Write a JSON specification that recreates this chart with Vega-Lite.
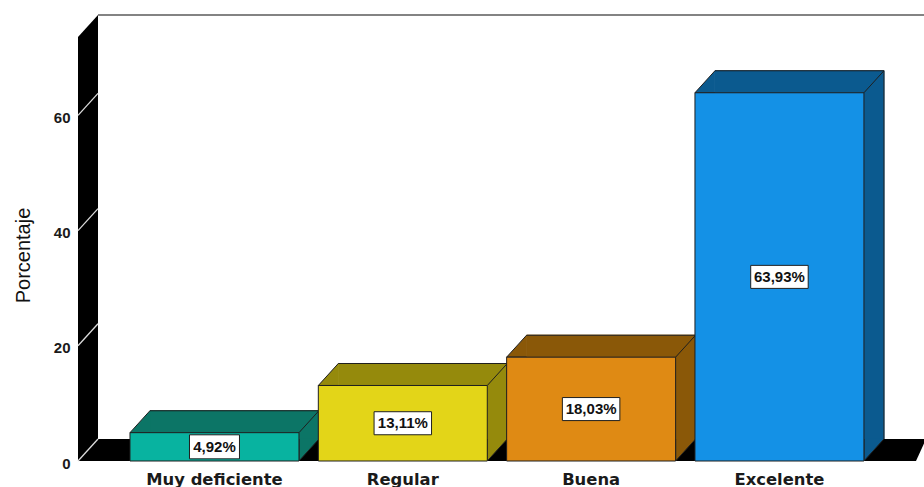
{
  "$schema": "https://vega.github.io/schema/vega-lite/v6.json",
  "width": 846,
  "height": 446,
  "autosize": "none",
  "padding": {"left": 78, "top": 15, "right": 0, "bottom": 26},
  "background": "#ffffff",
  "config": {
    "view": {"stroke": null},
    "locale": {"number": {"decimal": ",", "thousands": ".", "grouping": [3], "currency": ["", "%"]}}
  },
  "datasets": {
    "valoracion": [
      {"categoria": "Muy deficiente", "porcentaje": 4.92},
      {"categoria": "Regular", "porcentaje": 13.11},
      {"categoria": "Buena", "porcentaje": 18.03},
      {"categoria": "Excelente", "porcentaje": 63.93}
    ],
    "marcas": [{"t": 0}, {"t": 20}, {"t": 40}, {"t": 60}],
    "marco": [{}]
  },
  "data": {"name": "valoracion"},
  "resolve": {"scale": {"y": "independent"}},
  "layer": [
    {
      "layer": [
        {
          "data": {"name": "marco"},
          "mark": {"type": "rect", "fill": "#000000"},
          "encoding": {
            "x": {"value": 0},
            "x2": {"value": 20},
            "y": {"datum": 0, "type": "quantitative", "scale": {"domain": [0, 77.43], "nice": false, "zero": true}},
            "y2": {"value": 0}
          }
        },
        {
          "data": {"name": "marco"},
          "mark": {"type": "rect", "fill": "#000000", "y2Offset": -22},
          "encoding": {
            "x": {"value": 0},
            "x2": {"value": "width"},
            "y": {"datum": 0, "type": "quantitative", "scale": {"domain": [0, 77.43], "nice": false, "zero": true}},
            "y2": {"datum": 0}
          }
        },
        {
          "data": {"name": "marco"},
          "mark": {"type": "point", "shape": "M-0.909,-1L0.909,-1L-0.909,1Z", "size": 484, "filled": true, "fill": "#ffffff", "opacity": 1, "strokeWidth": 0},
          "encoding": {"x": {"value": 10}, "y": {"value": 11}}
        },
        {
          "data": {"name": "marco"},
          "mark": {"type": "point", "shape": "M-0.727,1L0.182,1L0.182,-1Z", "size": 484, "filled": true, "fill": "#ffffff", "opacity": 1, "strokeWidth": 0, "yOffset": -11},
          "encoding": {
            "x": {"value": "width"},
            "y": {"datum": 0, "type": "quantitative", "scale": {"domain": [0, 77.43], "nice": false, "zero": true}}
          }
        },
        {
          "data": {"name": "marcas"},
          "mark": {"type": "point", "shape": "M-0.909,1L0.909,-1", "size": 484, "filled": false, "stroke": "#dcdcdc", "strokeWidth": 1.3, "opacity": 1, "yOffset": -11},
          "encoding": {
            "x": {"value": 10},
            "y": {"field": "t", "type": "quantitative", "scale": {"domain": [0, 77.43], "nice": false, "zero": true}}
          }
        },
        {
          "data": {"name": "marco"},
          "mark": {"type": "rule", "stroke": "#5a5a5a", "strokeWidth": 1.3},
          "encoding": {"x": {"value": 20}, "x2": {"value": "width"}, "y": {"value": 0}}
        },
        {
          "mark": {"type": "bar", "xOffset": 20, "yOffset": -22, "y2Offset": -22, "strokeWidth": 1},
          "encoding": {
            "x": {"field": "categoria", "type": "nominal", "sort": null, "scale": {"type": "band", "domain": ["Muy deficiente", "Regular", "Buena", "Excelente"], "paddingInner": 0.1027, "paddingOuter": 0.2975, "align": 0.464}},
            "y": {"field": "porcentaje", "type": "quantitative", "scale": {"domain": [0, 77.43], "nice": false, "zero": true}},
            "fill": {"field": "categoria", "type": "nominal", "scale": {"domain": ["Muy deficiente", "Regular", "Buena", "Excelente"], "range": ["#0c7566", "#958a0c", "#8a5808", "#0b5a8f"]}, "legend": null},
            "stroke": {"field": "categoria", "type": "nominal", "scale": {"domain": ["Muy deficiente", "Regular", "Buena", "Excelente"], "range": ["#0c7566", "#958a0c", "#8a5808", "#0b5a8f"]}, "legend": null}
          }
        },
        {
          "mark": {"type": "point", "shape": "M0.909,1L-0.909,1L0.909,-1", "size": 484, "filled": true, "opacity": 1, "stroke": "#1f1f1f", "strokeWidth": 1, "xOffset": 10, "yOffset": -11},
          "encoding": {
            "x": {"field": "categoria", "type": "nominal", "sort": null, "bandPosition": 0, "scale": {"type": "band", "domain": ["Muy deficiente", "Regular", "Buena", "Excelente"], "paddingInner": 0.1027, "paddingOuter": 0.2975, "align": 0.464}},
            "y": {"field": "porcentaje", "type": "quantitative", "scale": {"domain": [0, 77.43], "nice": false, "zero": true}},
            "fill": {"field": "categoria", "type": "nominal", "scale": {"domain": ["Muy deficiente", "Regular", "Buena", "Excelente"], "range": ["#0c7566", "#958a0c", "#8a5808", "#0b5a8f"]}, "legend": null}
          }
        },
        {
          "mark": {"type": "point", "shape": "M-0.909,-1L-0.909,1L0.909,-1", "size": 484, "filled": true, "opacity": 1, "stroke": "#1f1f1f", "strokeWidth": 1, "xOffset": 10, "yOffset": -11},
          "encoding": {
            "x": {"field": "categoria", "type": "nominal", "sort": null, "bandPosition": 1, "scale": {"type": "band", "domain": ["Muy deficiente", "Regular", "Buena", "Excelente"], "paddingInner": 0.1027, "paddingOuter": 0.2975, "align": 0.464}},
            "y": {"datum": 0, "type": "quantitative", "scale": {"domain": [0, 77.43], "nice": false, "zero": true}},
            "fill": {"field": "categoria", "type": "nominal", "scale": {"domain": ["Muy deficiente", "Regular", "Buena", "Excelente"], "range": ["#0c7566", "#958a0c", "#8a5808", "#0b5a8f"]}, "legend": null}
          }
        },
        {
          "mark": {"type": "point", "shape": "M-0.909,1L0.909,-1", "size": 484, "filled": false, "stroke": "#1f1f1f", "strokeWidth": 1, "opacity": 1, "xOffset": 10, "yOffset": -11},
          "encoding": {
            "x": {"field": "categoria", "type": "nominal", "sort": null, "bandPosition": 1, "scale": {"type": "band", "domain": ["Muy deficiente", "Regular", "Buena", "Excelente"], "paddingInner": 0.1027, "paddingOuter": 0.2975, "align": 0.464}},
            "y": {"field": "porcentaje", "type": "quantitative", "scale": {"domain": [0, 77.43], "nice": false, "zero": true}}
          }
        },
        {
          "mark": {"type": "tick", "orient": "horizontal", "size": 169, "thickness": 1, "color": "#1f1f1f", "opacity": 1, "xOffset": 20, "yOffset": -22},
          "encoding": {
            "x": {"field": "categoria", "type": "nominal", "sort": null, "scale": {"type": "band", "domain": ["Muy deficiente", "Regular", "Buena", "Excelente"], "paddingInner": 0.1027, "paddingOuter": 0.2975, "align": 0.464}},
            "y": {"field": "porcentaje", "type": "quantitative", "scale": {"domain": [0, 77.43], "nice": false, "zero": true}}
          }
        },
        {
          "mark": {"type": "bar", "width": 1, "xOffset": 104.5, "yOffset": -22, "y2Offset": -22, "color": "#1f1f1f"},
          "encoding": {
            "x": {"field": "categoria", "type": "nominal", "sort": null, "scale": {"type": "band", "domain": ["Muy deficiente", "Regular", "Buena", "Excelente"], "paddingInner": 0.1027, "paddingOuter": 0.2975, "align": 0.464}},
            "y": {"field": "porcentaje", "type": "quantitative", "scale": {"domain": [0, 77.43], "nice": false, "zero": true}}
          }
        },
        {
          "mark": {"type": "bar", "stroke": "#1f1f1f", "strokeWidth": 1},
          "encoding": {
            "x": {
              "field": "categoria", "type": "nominal", "sort": null,
              "scale": {"type": "band", "domain": ["Muy deficiente", "Regular", "Buena", "Excelente"], "paddingInner": 0.1027, "paddingOuter": 0.2975, "align": 0.464},
              "axis": {"title": null, "labelAngle": 0, "labelAlign": "center", "bandPosition": 0.5, "ticks": false, "domain": false, "grid": false, "labelFont": "DejaVu Sans", "labelFontWeight": "bold", "labelFontSize": 16.4, "labelColor": "#1a1a1a", "labelPadding": 23, "labelBaseline": "alphabetic"}
            },
            "y": {
              "field": "porcentaje", "type": "quantitative",
              "scale": {"domain": [0, 77.43], "nice": false, "zero": true},
              "axis": {"values": [0, 20, 40, 60], "format": "d", "title": "Porcentaje", "grid": false, "domain": false, "ticks": false, "labelFont": "Liberation Sans", "labelFontWeight": "bold", "labelFontSize": 15, "labelColor": "#1a1a1a", "labelPadding": 8, "labelOffset": 2, "titleFont": "Liberation Sans", "titleFontWeight": "normal", "titleFontSize": 20, "titleColor": "#111111", "titleX": -49, "titleY": 240, "titleBaseline": "alphabetic", "titleAlign": "center", "titleAngle": 270}
            },
            "color": {"field": "categoria", "type": "nominal", "scale": {"domain": ["Muy deficiente", "Regular", "Buena", "Excelente"], "range": ["#08b3a0", "#e3d518", "#df8a14", "#1491e6"]}, "legend": null}
          }
        }
      ]
    },
    {
      "layer": [
        {
          "mark": {"type": "point", "size": 3364, "filled": true, "fill": "#ffffff", "stroke": "#1f1f1f", "strokeWidth": 1, "opacity": 1},
          "encoding": {
            "x": {"field": "categoria", "type": "nominal", "sort": null, "scale": {"type": "band", "domain": ["Muy deficiente", "Regular", "Buena", "Excelente"], "paddingInner": 0.1027, "paddingOuter": 0.2975, "align": 0.464}},
            "y": {"field": "porcentaje", "type": "quantitative", "scale": {"domain": [0, 154.86], "nice": false, "zero": true}, "axis": null},
            "shape": {
              "condition": {"test": "datum.porcentaje >= 10", "value": "M-0.991,-0.397L0.991,-0.397L0.991,0.397L-0.991,0.397Z"},
              "value": "M-0.862,-0.414L0.862,-0.414L0.862,0.414L-0.862,0.414Z"
            }
          }
        },
        {
          "mark": {"type": "text", "font": "Liberation Sans", "fontWeight": "bold", "fontSize": 15, "color": "#111111", "align": "center", "baseline": "middle"},
          "encoding": {
            "x": {"field": "categoria", "type": "nominal", "sort": null, "scale": {"type": "band", "domain": ["Muy deficiente", "Regular", "Buena", "Excelente"], "paddingInner": 0.1027, "paddingOuter": 0.2975, "align": 0.464}},
            "y": {"field": "porcentaje", "type": "quantitative", "scale": {"domain": [0, 154.86], "nice": false, "zero": true}, "axis": null},
            "text": {"field": "porcentaje", "type": "quantitative", "format": "$.2f"}
          }
        }
      ]
    }
  ]
}
